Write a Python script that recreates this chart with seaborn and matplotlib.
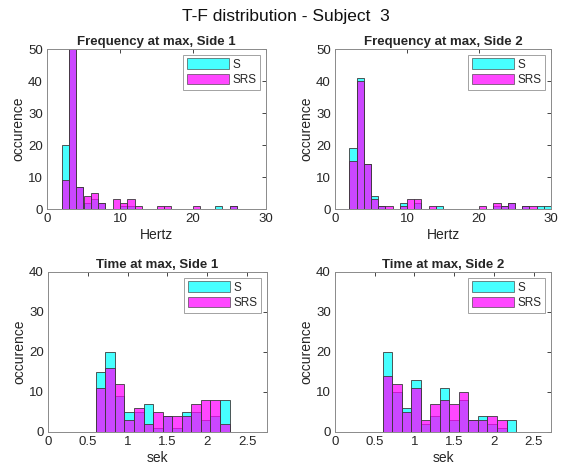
import numpy as np
import pandas as pd
import matplotlib
matplotlib.use("Agg")
import matplotlib.pyplot as plt
import seaborn as sns
from matplotlib.patches import Patch

sns.set_style("white")
plt.rcParams['font.family'] = ['Liberation Sans', 'DejaVu Sans']

suptitle = "T-F distribution - Subject  3"
groups = ["S", "SRS"]

# Frequency bins: edges 2..30 Hz, width 1
freq_edges = list(range(2, 31))
freq1_S   = [20, 55, 7, 2, 3, 2, 0, 0, 1, 1, 0, 0, 0, 0, 0, 0, 0, 0, 0, 0, 0, 1, 0, 1, 0, 0, 0, 0]
freq1_SRS = [9, 60, 7, 4, 5, 2, 0, 3, 2, 3, 1, 0, 0, 1, 1, 0, 0, 0, 1, 0, 0, 0, 0, 1, 0, 0, 0, 0]
freq2_S   = [19, 41, 14, 4, 1, 0, 0, 2, 0, 2, 0, 0, 1, 0, 0, 0, 0, 0, 0, 0, 1, 1, 2, 0, 1, 0, 1, 1]
freq2_SRS = [15, 40, 14, 3, 1, 1, 0, 1, 3, 3, 0, 1, 0, 0, 0, 0, 0, 0, 1, 0, 2, 1, 2, 0, 1, 1, 0, 0]

# Time bins: edges 0.6..2.28 s, width 0.12
time_edges = [0.60, 0.72, 0.84, 0.96, 1.08, 1.20, 1.32, 1.44, 1.56, 1.68, 1.80, 1.92, 2.04, 2.16, 2.28]
time1_S   = [15, 20, 9, 5, 5, 7, 1, 4, 1, 5, 5, 3, 4, 8]
time1_SRS = [11, 16, 12, 3, 6, 2, 5, 4, 4, 4, 7, 8, 8, 2]
time2_S   = [20, 10, 6, 13, 2, 4, 11, 3, 8, 3, 4, 2, 1, 3]
time2_SRS = [14, 12, 5, 11, 3, 7, 8, 7, 10, 3, 3, 4, 3, 0]

titles = ["Frequency at max, Side 1", "Frequency at max, Side 2",
          "Time at max, Side 1", "Time at max, Side 2"]
xlabels = ["Hertz", "Hertz", "sek", "sek"]
ylabel = "occurence"

colors = {"S": "#00ffff", "SRS": "#ff00ff"}
alpha = 0.72

def make_df(edges, s_counts, srs_counts):
    edges = np.asarray(edges, dtype=float)
    centers = (edges[:-1] + edges[1:]) / 2
    rows = []
    for g, c in zip(groups, [s_counts, srs_counts]):
        rows.append(pd.DataFrame({"x": centers, "count": c, "group": g}))
    return pd.concat(rows, ignore_index=True)

panels = [
    (freq_edges, freq1_S, freq1_SRS, (0, 30), [0, 10, 20, 30], (0, 50), [0, 10, 20, 30, 40, 50]),
    (freq_edges, freq2_S, freq2_SRS, (0, 30), [0, 10, 20, 30], (0, 50), [0, 10, 20, 30, 40, 50]),
    (time_edges, time1_S, time1_SRS, (0, 2.75), [0, 0.5, 1, 1.5, 2, 2.5], (0, 40), [0, 10, 20, 30, 40]),
    (time_edges, time2_S, time2_SRS, (0, 2.72), [0, 0.5, 1, 1.5, 2, 2.5], (0, 40), [0, 10, 20, 30, 40]),
]

W, H = 571, 470
fig = plt.figure(figsize=(W / 100, H / 100), dpi=100)
# axes boxes in pixels: left, right, top, bottom
boxes = [(47, 266, 49, 209), (335, 551, 49, 209), (48, 267, 272, 432), (335, 551, 272, 432)]

for i, (edges, s, srs, xl, xt, yl, yt) in enumerate(panels):
    l, r, t, b = boxes[i]
    ax = fig.add_axes([l / W, 1 - b / H, (r - l) / W, (b - t) / H])
    df = make_df(edges, s, srs)
    for g in groups:
        sns.histplot(data=df[df["group"] == g], x="x", weights="count", bins=edges,
                     color=colors[g], alpha=alpha, edgecolor="#3a3a3a", linewidth=0.6,
                     ax=ax)
    ax.set_xlim(*xl)
    ax.set_ylim(*yl)
    ax.set_xticks(xt)
    ax.set_xticklabels([f"{v:g}" for v in xt])
    ax.set_yticks(yt)
    ax.set_title(titles[i], fontsize=9.5, fontweight="bold", pad=3)
    ax.set_xlabel(xlabels[i], fontsize=10, labelpad=2, color="#262626")
    if i in (0, 2):
        ax.set_ylabel(ylabel, fontsize=10, labelpad=2, color="#262626")
    else:
        ax.set_ylabel(ylabel, fontsize=10, labelpad=2, color="#262626")
    ax.tick_params(direction="in", length=3, width=0.6, top=True, right=True,
                   labelsize=9.5, colors="#262626", pad=3)
    for sp in ax.spines.values():
        sp.set_color("#8a8a8a")
        sp.set_linewidth(0.7)
    handles = [Patch(facecolor=colors[g], alpha=alpha, edgecolor="#3a3a3a", linewidth=0.6)
               for g in groups]
    leg = ax.legend(handles, groups, loc="upper right", fontsize=8.5, frameon=True,
                    fancybox=False, handlelength=3.6, handleheight=1.0,
                    borderpad=0.3, labelspacing=0.25, handletextpad=0.3,
                    borderaxespad=0.5)
    leg.get_frame().set_edgecolor("#8a8a8a")
    leg.get_frame().set_linewidth(0.7)

fig.text(0.5, 1 - 17 / H, suptitle, ha="center", va="center", fontsize=12.5, color="#111111")

fig.savefig("out.png", dpi=100)
